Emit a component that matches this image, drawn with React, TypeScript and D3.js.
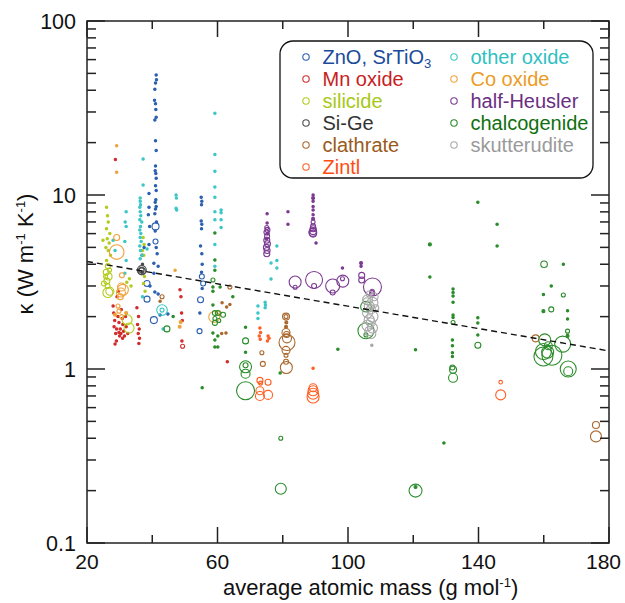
import React from 'react';
import * as d3 from 'd3';

// [average atomic mass, kappa, marker size]
type Pt = [number, number, number];

const znoSrtio3: Pt[] = [
  [41.2, 49, 1.2], [41.3, 46, 1.2], [41.0, 44, 1.2], [40.8, 40.5, 1.2], [40.7, 35, 1.2], [41.0, 33.5, 1.2],
  [41.1, 31, 1.2], [41.2, 28, 1.2], [40.8, 27, 1.2], [41.0, 20.5, 1.2], [41.2, 18, 1.2], [41.0, 14.7, 1.2],
  [40.9, 13.8, 1.2], [41.1, 13.3, 1.2], [41.2, 12.5, 1.2], [41.0, 11.3, 1.2], [41.2, 10.6, 1.2], [41.1, 9.4, 1.2],
  [40.9, 9.1, 1.2], [41.2, 8.6, 1.2], [41.0, 8.3, 1.2], [40.8, 7.8, 1.2], [41.3, 7.0, 1.2], [41.0, 6.6, 3.5],
  [40.9, 6.2, 1.2], [41.0, 5.4, 2.5], [41.2, 5.0, 1.2], [41.5, 4.6, 1.2],
  [39.0, 10.2, 1.2], [39.0, 8.5, 1.2], [38.8, 7.7, 1.2], [39.2, 6.6, 1.2], [39.0, 5.2, 1.2], [39.3, 3.0, 1.2],
  [37.5, 5.0, 1.2], [36.9, 4.5, 1.2], [40.5, 4.05, 1.2], [41.8, 3.9, 1.2], [40.5, 3.55, 1.2], [38.4, 3.1, 3],
  [40.8, 2.77, 1.2], [41.8, 2.7, 1.2], [38.4, 2.52, 3], [40.5, 1.91, 3.5], [42.4, 2.04, 1.2], [44.8, 2.07, 1.2],
  [55.0, 9.7, 1.2], [55.2, 9.2, 1.2], [55.1, 8.8, 1.2], [55.0, 7.1, 1.2], [55.2, 6.8, 1.2], [55.1, 6.4, 1.2],
  [54.8, 5.1, 1.2], [55.2, 4.6, 1.2], [55.3, 4.0, 1.2], [55.1, 3.6, 1.2], [55.2, 3.4, 2.5], [55.6, 3.1, 2.5],
  [55.3, 2.9, 1.2], [54.8, 2.5, 3], [54.5, 1.65, 2.5], [54.6, 2.1, 1.2],
];

const mnOxide: Pt[] = [
  [28.0, 2.3, 1.2], [28.2, 2.1, 1.2], [28.5, 1.9, 1.2], [28.3, 1.75, 1.2], [28.8, 1.6, 1.2], [29.0, 1.45, 1.2],
  [29.5, 2.0, 1.2], [29.8, 1.85, 1.2], [30.2, 1.7, 1.2], [30.0, 1.55, 1.2], [30.5, 2.2, 1.2], [30.8, 1.95, 1.2],
  [31.0, 1.8, 1.2], [31.2, 1.65, 1.2], [31.5, 1.55, 1.2], [29.2, 2.6, 1.2], [29.6, 2.8, 1.2], [31.8, 2.0, 1.2],
  [32.0, 1.75, 1.2], [32.5, 1.6, 1.2], [30.4, 1.6, 1.2], [29.1, 1.7, 1.2], [35.3, 2.25, 1.2], [35.8, 2.0, 1.2],
  [35.5, 1.8, 1.2], [36.0, 1.7, 1.2], [35.7, 1.6, 1.2], [36.1, 1.5, 1.2], [35.9, 1.4, 1.2], [28.7, 16, 1.2],
  [48.5, 2.85, 1.2], [48.8, 2.6, 1.2], [49.3, 1.35, 2], [49.1, 1.45, 1.2], [63.0, 1.1, 1.2], [49.0, 2.1, 1.2],
  [49.2, 1.9, 1.2], [28.6, 1.39, 1.2], [30.9, 1.5, 1.2], [29.8, 1.62, 1.2],
];

const silicide: Pt[] = [
  [26.0, 8.5, 1.2], [26.3, 7.6, 1.2], [26.5, 7.0, 1.2], [26.0, 6.4, 1.2], [27.0, 6.0, 1.2], [26.2, 5.6, 1.2],
  [26.8, 5.3, 1.2], [25.8, 5.0, 1.2], [26.5, 4.8, 1.2], [27.2, 4.5, 1.2], [26.0, 4.2, 1.2], [26.4, 3.9, 2.5],
  [25.9, 3.6, 3], [26.6, 3.4, 3.5], [26.1, 3.2, 3], [26.3, 3.0, 2.5], [27.0, 2.8, 4], [25.7, 3.4, 2],
  [26.9, 3.7, 2], [26.4, 2.75, 5], [24.9, 5.5, 1.2], [25.2, 3.1, 2.5],
  [37.2, 5.7, 1.2], [37.5, 5.2, 1.2], [37.0, 4.8, 1.2], [37.4, 4.5, 1.2], [37.6, 3.4, 1.2], [37.3, 3.1, 1.2],
  [37.8, 2.8, 1.2], [33.0, 3.3, 1.2], [32.2, 3.15, 1.2], [33.5, 3.0, 1.2], [32.3, 1.92, 5], [32.9, 1.72, 5],
];

const siGe: Pt[] = [
  [36.8, 3.7, 4.5], [36.8, 3.65, 3.5], [36.7, 3.7, 2.5], [36.9, 3.6, 1.5], [37.0, 4.0, 1.2],
];

const clathrate: Pt[] = [
  [81.0, 2.0, 3.5], [81.0, 2.0, 2], [81.1, 1.85, 1.5], [81.0, 1.75, 1.5], [81.0, 1.62, 4], [81.2, 1.58, 3],
  [81.3, 1.5, 4.5], [81.3, 1.42, 8], [81.0, 1.28, 4], [81.0, 1.2, 2], [81.1, 1.02, 6], [81.0, 1.1, 2.5],
  [63.8, 2.96, 2], [61.4, 2.4, 1.2], [62.8, 2.27, 1.2], [63.8, 2.35, 1.2], [62.6, 1.61, 1.2], [61.3, 1.6, 1.2],
  [43.0, 2.6, 2], [42.4, 2.45, 1.2], [73.6, 1.24, 2], [73.9, 1.07, 2.5],
  [157.5, 1.5, 3.5], [176.0, 0.477, 3.5], [176.0, 0.41, 5.5],
];

const zintl: Pt[] = [
  [73.0, 1.72, 1.2], [73.2, 1.62, 1.2], [72.8, 1.55, 1.2], [73.1, 1.48, 1.2], [75.5, 1.55, 1.2], [75.8, 1.5, 1.2],
  [75.3, 1.45, 1.2], [73.0, 0.86, 3], [73.2, 0.83, 2], [75.5, 0.84, 3], [73.0, 0.75, 4], [73.0, 0.7, 4.5],
  [75.5, 0.71, 4.5], [89.3, 1.01, 1.2], [89.3, 0.78, 4], [89.3, 0.75, 5], [89.3, 0.72, 5.5], [89.3, 0.69, 6],
  [146.8, 0.84, 1.8], [146.8, 0.71, 5],
];

const otherOxide: Pt[] = [
  [32.0, 8.0, 1.2], [31.7, 7.0, 1.2], [32.0, 6.6, 1.2], [31.6, 5.4, 1.2], [32.0, 4.2, 1.2], [28.0, 5.5, 1.2],
  [28.6, 4.8, 1.2], [31.6, 3.55, 1.2],
  [37.2, 16.1, 1.2], [37.2, 11.4, 1.2], [36.3, 9.6, 1.2], [36.3, 9.2, 1.2], [36.4, 8.8, 1.2], [36.2, 8.5, 1.2],
  [36.3, 8.0, 1.2], [36.5, 7.6, 1.2], [36.2, 7.2, 1.2], [36.8, 7.0, 1.2], [36.4, 6.6, 1.2], [36.2, 6.3, 1.2],
  [36.5, 6.0, 1.2], [36.3, 5.7, 1.2], [36.6, 5.4, 1.2], [36.2, 5.1, 1.2], [36.4, 4.8, 1.2], [36.8, 4.5, 1.2],
  [36.3, 4.3, 1.2], [37.0, 2.6, 1.2],
  [47.3, 10.0, 1.2], [47.4, 9.6, 1.2], [47.3, 8.4, 1.2], [47.5, 8.2, 1.2],
  [59.2, 29.5, 1.2], [59.2, 17.1, 1.2], [59.2, 13.7, 1.2], [59.2, 11.1, 1.2], [59.2, 9.7, 1.2], [59.2, 8.0, 1.2],
  [59.2, 7.2, 1.2], [59.2, 5.2, 1.2], [59.2, 3.9, 1.2], [61.1, 8.2, 1.2], [61.1, 7.9, 1.2], [61.1, 7.2, 1.2],
  [61.1, 6.5, 1.2],
  [78.2, 5.1, 1.2], [78.2, 4.2, 1.2], [78.2, 3.8, 1.2], [76.4, 4.06, 1.2], [76.4, 3.29, 1.2], [74.6, 2.42, 1.2],
  [74.7, 2.33, 1.2], [74.6, 2.25, 1.2], [72.4, 2.3, 1.2], [72.4, 2.1, 1.2], [72.4, 1.95, 1.2],
  [43.0, 2.18, 5.3], [43.0, 2.18, 2], [38.4, 4.9, 1.2], [43.3, 1.7, 1.2],
];

const coOxide: Pt[] = [
  [29.1, 19.2, 1.2], [29.1, 13.5, 1.2], [29.1, 5.7, 3], [29.1, 4.7, 7.3], [30.7, 3.46, 2.5], [30.6, 2.96, 4],
  [31.0, 2.85, 5.5], [30.4, 2.75, 4.5], [30.2, 2.6, 3], [29.5, 2.3, 2], [29.8, 2.15, 2], [28.6, 2.05, 1.5],
  [30.6, 2.0, 2], [32.0, 2.1, 1.5], [47.0, 3.7, 1.2], [48.7, 1.86, 1.5], [48.4, 1.75, 1.5], [59.0, 1.99, 5.5],
  [60.5, 2.1, 2],
];

const halfHeusler: Pt[] = [
  [75.2, 7.8, 1.2], [75.2, 6.9, 1.2], [75.1, 6.5, 2], [75.3, 6.3, 2.5], [75.0, 6.1, 2.5], [75.2, 5.8, 2.5],
  [75.1, 5.5, 3], [75.3, 5.25, 3], [75.0, 5.0, 3], [75.2, 4.8, 3], [75.1, 4.6, 3], [75.4, 6.0, 1.5],
  [75.0, 5.6, 1.5], [81.6, 8.0, 1.2], [81.6, 6.8, 1.2],
  [89.3, 10, 1.2], [89.3, 9.6, 1.5], [89.3, 9.2, 1.2], [89.3, 8.6, 1.2], [89.3, 8.2, 1.2], [89.3, 7.7, 1.2],
  [89.3, 7.3, 1.5], [89.3, 7.0, 2], [89.3, 6.6, 2.5], [89.3, 6.4, 3], [89.3, 6.2, 3.5], [89.3, 6.0, 3.5],
  [89.2, 6.1, 4], [90.2, 5.3, 1.2],
  [83.8, 3.16, 6], [83.8, 2.95, 2], [89.6, 3.25, 8.5], [89.6, 3.0, 2.5], [95.3, 3.0, 7], [95.3, 2.75, 2.5],
  [98.4, 3.2, 6], [98.3, 3.3, 2], [98.3, 3.8, 1.2], [104.0, 4.06, 1.5], [104.0, 3.9, 1.2], [104.2, 3.45, 3],
  [104.2, 3.25, 3], [107.5, 2.96, 9], [107.4, 2.73, 2.5], [107.4, 2.8, 2],
];

const chalcogenide: Pt[] = [
  [59.2, 6.05, 1.2], [59.2, 4.23, 1.2], [59.2, 3.7, 1.2], [58.6, 3.25, 2], [58.6, 2.96, 1.2], [60.8, 2.96, 1.2],
  [58.6, 2.8, 1.2], [58.6, 2.33, 1.2], [59.2, 2.1, 2.5], [60.1, 2.1, 2.5], [61.7, 2.05, 2.5], [59.2, 1.95, 2],
  [60.4, 1.9, 2], [59.2, 1.84, 2.5], [58.6, 1.61, 1.2], [59.2, 1.47, 1.2], [59.2, 1.34, 1.2], [60.1, 1.34, 1.2],
  [60.1, 1.55, 1.2], [64.7, 2.6, 1.2], [55.3, 0.78, 1.2],
  [68.6, 1.74, 1.2], [68.6, 1.45, 3], [68.6, 1.25, 1.2], [68.6, 1.03, 6], [68.6, 1.05, 2.5], [68.6, 0.94, 4.5],
  [68.6, 0.75, 9],
  [79.2, 0.95, 1.2], [79.4, 0.4, 2], [79.4, 0.205, 5.5],
  [120.7, 0.2, 6.5], [120.7, 0.21, 1.5], [129.4, 0.376, 1.2], [96.9, 1.3, 1.2], [120.7, 1.29, 1.2],
  [105.5, 2.28, 5.3], [105.5, 1.66, 8], [105.5, 1.57, 2],
  [132.2, 2.88, 1.2], [132.2, 2.75, 1.2], [132.2, 2.63, 1.2], [132.2, 2.42, 1.2], [132.2, 2.04, 1.2],
  [132.2, 1.98, 1.2], [132.2, 1.85, 2], [132.0, 1.47, 1.2], [132.0, 1.36, 1.2], [132.0, 1.24, 1.2],
  [132.0, 1.18, 1.2], [132.0, 1.02, 2.5], [132.2, 0.99, 3.5], [132.2, 0.89, 4.5],
  [125.1, 5.2, 1.5], [125.1, 3.38, 1.2],
  [139.8, 9.1, 1.2], [145.7, 6.8, 1.2], [145.7, 5.1, 1.2], [139.8, 1.97, 1.2], [139.8, 1.84, 1.2],
  [139.8, 1.57, 1.2], [139.8, 1.37, 3],
  [160.1, 4.0, 3.3], [166.0, 4.0, 1.2], [162.3, 3.0, 1.2], [159.9, 2.68, 1.2], [166.0, 2.66, 2], [159.9, 2.15, 1.5],
  [162.3, 2.2, 2.5], [167.3, 2.16, 1.2], [167.3, 1.94, 1.2], [167.3, 1.65, 2], [167.3, 1.55, 1.5],
  [160.3, 1.47, 6], [165.8, 1.39, 8], [161.4, 1.36, 4], [159.9, 1.26, 8], [161.2, 1.25, 6], [162.5, 1.2, 10],
  [159.9, 1.18, 9.5], [167.5, 1.0, 8], [167.5, 0.97, 4.5],
  [46.4, 2.0, 1.2], [44.5, 1.7, 3],
];

const skutterudite: Pt[] = [
  [106.5, 2.7, 3], [108.0, 2.6, 4], [106.0, 2.5, 5], [107.5, 2.4, 5.5], [106.5, 2.3, 5], [107.0, 2.2, 4.5],
  [106.0, 2.1, 5], [107.5, 2.0, 5.5], [106.5, 1.92, 5], [107.0, 1.85, 4.5], [106.0, 1.78, 5.5], [107.5, 1.72, 5],
  [106.5, 1.65, 4.5], [107.0, 1.6, 5], [108.5, 2.25, 3], [107.3, 1.37, 1.2], [105.8, 2.45, 3.5],
];

// dashed trend line end points
const trendMass = [20, 180];
const trendKappa = [4.15, 1.27];

const xMajor = [20, 60, 100, 140, 180];
const xMinor = [40, 80, 120, 160];
const yMajor = [0.1, 1, 10, 100];
const yMajorLabels = ['0.1', '1', '10', '100'];

const series = [
  { key: 'zno', label: 'ZnO, SrTiO', sub: '3', stroke: '#2c5fb0', text: '#1b4b9b', pts: znoSrtio3, col: 0, row: 0 },
  { key: 'mn', label: 'Mn oxide', stroke: '#d22b2b', text: '#c81e1e', pts: mnOxide, col: 0, row: 1 },
  { key: 'sil', label: 'silicide', stroke: '#b2cc1e', text: '#a8c818', pts: silicide, col: 0, row: 2 },
  { key: 'sige', label: 'Si-Ge', stroke: '#4d4d4d', text: '#333333', pts: siGe, col: 0, row: 3 },
  { key: 'clath', label: 'clathrate', stroke: '#a9682e', text: '#9a5a1c', pts: clathrate, col: 0, row: 4 },
  { key: 'zintl', label: 'Zintl', stroke: '#ff5f24', text: '#ff4d12', pts: zintl, col: 0, row: 5 },
  { key: 'oth', label: 'other oxide', stroke: '#3cc6c6', text: '#2fbfc2', pts: otherOxide, col: 1, row: 0 },
  { key: 'co', label: 'Co oxide', stroke: '#efa23a', text: '#eb9c24', pts: coOxide, col: 1, row: 1 },
  { key: 'hh', label: 'half-Heusler', stroke: '#7c3a92', text: '#6b2d82', pts: halfHeusler, col: 1, row: 2 },
  { key: 'chal', label: 'chalcogenide', stroke: '#2a8c2a', text: '#10700f', pts: chalcogenide, col: 1, row: 3 },
  { key: 'sk', label: 'skutterudite', stroke: '#a8a8a8', text: '#9a9a9a', pts: skutterudite, col: 1, row: 4 },
];

const W = 625;
const H = 603;
const FONT = '"Liberation Sans", Arial, Helvetica, sans-serif';

export default function App() {
  const x = d3.scaleLinear().domain([20, 180]).range([87, 609]);
  const y = d3.scaleLog().domain([0.1, 100]).range([543, 21]);
  const size = d3.scaleLinear().domain([0, 10]).range([0, 10]);
  const [x0, x1] = x.range();
  const [y0, y1] = y.range();

  const yMinor: number[] = [];
  for (const d of [0.1, 1, 10]) for (let k = 2; k <= 9; k++) yMinor.push(d * k);

  const line = d3
    .line<number>()
    .x((_, i) => x(trendMass[i]))
    .y((k) => y(k));

  const legX = [306, 454];
  const legY = (r: number) => 57 + r * 22;

  return (
    <svg width={W} height={H} style={{ position: 'absolute', left: 0, top: 0 }} fontFamily={FONT}>
      <rect width={W} height={H} fill="#fff" />

      {series.map((s) => (
        <g key={s.key} fill="none" stroke={s.stroke} strokeWidth={1.1}>
          {s.pts.map((p, i) => (
            <circle
              key={i}
              cx={x(p[0])}
              cy={y(p[1])}
              r={size(p[2])}
              fill={p[2] <= 1.5 ? s.stroke : 'none'}
            />
          ))}
        </g>
      ))}

      <path d={line(trendKappa) || ''} fill="none" stroke="#111" strokeWidth={1.4} strokeDasharray="6,4" />

      {/* frame and ticks */}
      <g stroke="#222" strokeWidth={1.5}>
        <rect x={x0} y={y1} width={x1 - x0} height={y0 - y1} fill="none" />
        {xMajor.map((v) => (
          <g key={'xM' + v}>
            <line x1={x(v)} x2={x(v)} y1={y0} y2={y0 - 16} />
            <line x1={x(v)} x2={x(v)} y1={y1} y2={y1 + 16} />
          </g>
        ))}
        {xMinor.map((v) => (
          <g key={'xm' + v}>
            <line x1={x(v)} x2={x(v)} y1={y0} y2={y0 - 8} />
            <line x1={x(v)} x2={x(v)} y1={y1} y2={y1 + 8} />
          </g>
        ))}
        {yMajor.map((v) => (
          <g key={'yM' + v}>
            <line x1={x0} x2={x0 + 18} y1={y(v)} y2={y(v)} />
            <line x1={x1} x2={x1 - 18} y1={y(v)} y2={y(v)} />
          </g>
        ))}
        {yMinor.map((v) => (
          <g key={'ym' + v}>
            <line x1={x0} x2={x0 + 9} y1={y(v)} y2={y(v)} />
            <line x1={x1} x2={x1 - 9} y1={y(v)} y2={y(v)} />
          </g>
        ))}
      </g>

      <g fontSize={21.5} fill="#111">
        {xMajor.map((v, i) => {
          const last = i === xMajor.length - 1;
          return (
            <text key={'xl' + v} x={last ? 621 : x(v)} y={569} fontSize={21} textAnchor={last ? 'end' : 'middle'}>
              {v}
            </text>
          );
        })}
        {yMajor.map((v, i) => (
          <text key={'yl' + v} x={76} y={y(v)} dy="0.36em" textAnchor="end">
            {yMajorLabels[i]}
          </text>
        ))}
      </g>

      <text x={223} y={595} fontSize={22} fill="#111">
        average atomic mass (g mol
        <tspan fontSize={13} dy={-8}>-1</tspan>
        <tspan dy={8}>)</tspan>
      </text>

      <text transform="translate(33,254) rotate(-90)" textAnchor="middle" fontSize={22} fill="#111">
        κ (W m<tspan fontSize={13} dy={-8}>-1</tspan>
        <tspan dy={8}> K</tspan>
        <tspan fontSize={13} dy={-8}>-1</tspan>
        <tspan dy={8}>)</tspan>
      </text>

      {/* legend */}
      <rect x={280} y={41} width={313} height={137} rx={13} ry={13} fill="#fff" stroke="#111" strokeWidth={1.3} />
      {series.map((s) => (
        <g key={'lg' + s.key}>
          <circle cx={legX[s.col]} cy={legY(s.row)} r={3.2} fill="none" stroke={s.stroke} strokeWidth={1.1} />
          <text x={legX[s.col] + 16.5} y={legY(s.row)} dy="0.36em" fontSize={20} fill={s.text}>
            {s.label}
            {s.sub ? (
              <tspan fontSize={13} dy={4}>
                {s.sub}
              </tspan>
            ) : null}
          </text>
        </g>
      ))}
    </svg>
  );
}
